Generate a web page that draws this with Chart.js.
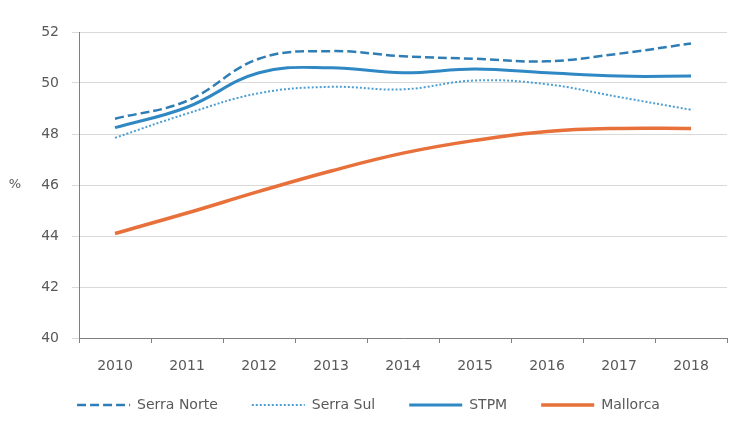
<!DOCTYPE html>
<html><head><meta charset="utf-8">
<script src="https://cdn.jsdelivr.net/npm/chart.js@4"></script>
<style>html,body{margin:0;padding:0;background:#fff}#wrap{width:736px;height:422px}</style>
</head><body><div id="wrap"><canvas id="c"></canvas></div>
<script>
const years = ['2010','2011','2012','2013','2014','2015','2016','2017','2018'];
const serraNorte = [48.6, 49.3, 50.95, 51.25, 51.05, 50.95, 50.85, 51.15, 51.55];
const serraSul   = [47.85, 48.8, 49.6, 49.85, 49.75, 50.1, 49.95, 49.45, 48.95];
const stpm       = [48.25, 49.05, 50.4, 50.6, 50.4, 50.55, 50.4, 50.27, 50.27];
const mallorca   = [44.1, 44.9, 45.75, 46.55, 47.25, 47.75, 48.1, 48.22, 48.22];
const yTicks = [40, 42, 44, 46, 48, 50, 52];
const yTitle = '%';

Chart.defaults.font.family = 'DejaVu Sans, sans-serif';
Chart.defaults.font.size = 14;
Chart.defaults.color = '#595959';

const yTitlePlugin = {
  id: 'yTitle',
  beforeDraw(chart) {
    // let x tick labels extend below the (compact) x-axis box without clipping
    if (chart.scales.x) chart.scales.x._computeLabelArea = () => undefined;
  },
  afterDraw(chart) {
    const ctx = chart.ctx, y = chart.scales.y;
    ctx.save();
    ctx.fillStyle = '#595959';
    ctx.font = '13px DejaVu Sans, sans-serif';
    ctx.textAlign = 'center';
    ctx.textBaseline = 'middle';
    ctx.fillText(yTitle, 15, y.getPixelForValue(46));
    ctx.restore();
  }
};

new Chart(document.getElementById('c'), {
  type: 'line',
  data: {
    labels: years,
    datasets: [
      {label: 'Serra Norte', data: serraNorte, borderColor: '#2F7DB5', backgroundColor: '#2F7DB5', borderWidth: 2.5, borderDash: [9, 4], pointRadius: 0, tension: 0.4},
      {label: 'Serra Sul', data: serraSul, borderColor: '#4C9FD2', backgroundColor: '#4C9FD2', borderWidth: 2, borderDash: [2, 2], pointRadius: 0, tension: 0.4},
      {label: 'STPM', data: stpm, borderColor: '#2F88C3', backgroundColor: '#2F88C3', borderWidth: 3, pointRadius: 0, tension: 0.4},
      {label: 'Mallorca', data: mallorca, borderColor: '#E8703A', backgroundColor: '#E8703A', borderWidth: 3.5, pointRadius: 0, tension: 0.4}
    ]
  },
  options: {
    responsive: true, maintainAspectRatio: false, animation: false,
    layout: {padding: {left: 10, right: 9, top: 32, bottom: 0}},
    plugins: {
      legend: {position: 'bottom', labels: {
        usePointStyle: true, pointStyle: 'line', pointStyleWidth: 53, padding: 34, color: '#595959', font: {size: 14},
        generateLabels(chart) {
          const items = Chart.defaults.plugins.legend.labels.generateLabels(chart);
          items.forEach((it, i) => {
            const ds = chart.data.datasets[i];
            it.lineDash = ds.borderDash || [];
            it.strokeStyle = ds.borderColor;
            it.lineWidth = ds.borderWidth;
            it.pointStyle = 'line';
          });
          return items;
        }
      }},
      tooltip: {enabled: false}
    },
    scales: {
      x: {
        offset: true,
        afterFit: (s) => { s.height = 26; },
        grid: {offset: true, drawOnChartArea: false, color: '#7f7f7f', tickLength: 5, drawTicks: true},
        border: {color: '#7f7f7f', width: 1},
        ticks: {color: '#595959', padding: 15, maxRotation: 0}
      },
      y: {
        min: 40, max: 52,
        afterFit: (s) => { s.width = 69; },
        afterBuildTicks: (s) => { s.ticks = yTicks.map(v => ({value: v})); },
        grid: {color: '#d9d9d9', tickLength: 7},
        border: {color: '#7f7f7f', width: 1},
        ticks: {color: '#595959', padding: 13}
      }
    }
  },
  plugins: [yTitlePlugin]
});
</script></body></html>
